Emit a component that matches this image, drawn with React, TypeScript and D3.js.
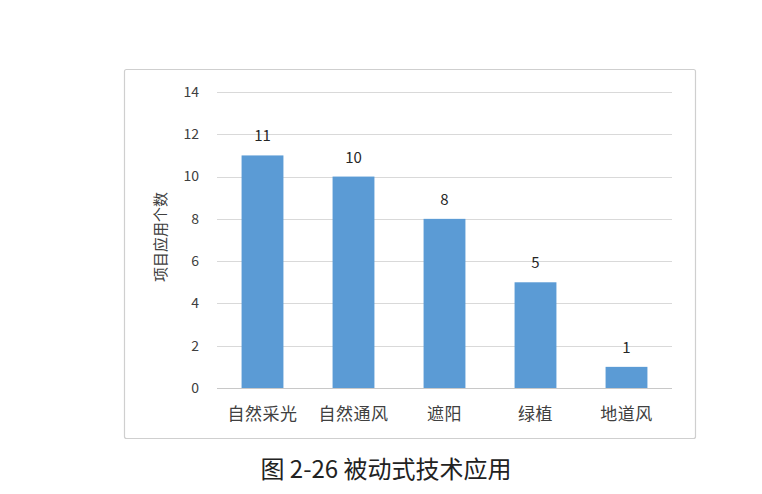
import React, { useEffect, useRef } from 'react';
import * as d3 from 'd3';

const categories = ['自然采光', '自然通风', '遮阳', '绿植', '地道风'];
const counts = [11, 10, 8, 5, 1];
const yTicks = [0, 2, 4, 6, 8, 10, 12, 14];
const yTitle = '项目应用个数';
const caption = '图 2-26 被动式技术应用';

const W = 762;
const H = 494;

const App: React.FC = () => {
  const svgRef = useRef<SVGSVGElement>(null);

  useEffect(() => {
    if (!svgRef.current) return;
    const svg = d3.select(svgRef.current);
    svg.selectAll('*').remove();

    const font = '"Noto Sans CJK SC", "Open Sans", sans-serif';
    const plot = { left: 217, right: 672, top: 92, bottom: 388 };

    svg.append('rect').attr('width', W).attr('height', H).attr('fill', '#ffffff');

    // chart frame
    svg.append('rect')
      .attr('x', 124.5).attr('y', 69.5)
      .attr('width', 571).attr('height', 369)
      .attr('rx', 2)
      .attr('fill', '#ffffff')
      .attr('stroke', '#cfcfcf')
      .attr('stroke-width', 1.2);

    const x = d3.scaleBand()
      .domain(categories)
      .range([plot.left, plot.right])
      .paddingInner(0.54)
      .paddingOuter(0.27);

    const y = d3.scaleLinear()
      .domain([0, 14])
      .range([plot.bottom, plot.top]);

    // grid lines
    svg.append('g')
      .selectAll('line')
      .data(yTicks)
      .enter()
      .append('line')
      .attr('x1', plot.left)
      .attr('x2', plot.right)
      .attr('y1', d => Math.round(y(d)) + 0.5)
      .attr('y2', d => Math.round(y(d)) + 0.5)
      .attr('stroke', d => (d === 0 ? '#c8c8c8' : '#d9d9d9'))
      .attr('stroke-width', 1);

    // y tick labels
    svg.append('g')
      .selectAll('text')
      .data(yTicks)
      .enter()
      .append('text')
      .attr('x', 199)
      .attr('y', d => y(d))
      .attr('dy', '0.35em')
      .attr('text-anchor', 'end')
      .attr('font-family', font)
      .attr('font-size', 14)
      .attr('fill', '#404040')
      .text(d => d);

    // bars
    svg.append('g')
      .selectAll('rect')
      .data(counts)
      .enter()
      .append('rect')
      .attr('x', (_, i) => x(categories[i]) || 0)
      .attr('y', d => y(d))
      .attr('width', x.bandwidth())
      .attr('height', d => y(0) - y(d))
      .attr('fill', '#5b9bd5');

    // value labels
    svg.append('g')
      .selectAll('text')
      .data(counts)
      .enter()
      .append('text')
      .attr('x', (_, i) => (x(categories[i]) || 0) + x.bandwidth() / 2)
      .attr('y', d => y(d) - 14)
      .attr('text-anchor', 'middle')
      .attr('font-family', font)
      .attr('font-size', 15)
      .attr('fill', '#262626')
      .text(d => d);

    // category labels
    svg.append('g')
      .selectAll('text')
      .data(categories)
      .enter()
      .append('text')
      .attr('x', d => (x(d) || 0) + x.bandwidth() / 2)
      .attr('y', 420)
      .attr('text-anchor', 'middle')
      .attr('font-family', font)
      .attr('font-size', 17)
      .attr('letter-spacing', 0.5)
      .attr('fill', '#404040')
      .text(d => d);

    // y axis title
    svg.append('text')
      .attr('transform', `translate(161,237) rotate(-90)`)
      .attr('dy', '0.35em')
      .attr('text-anchor', 'middle')
      .attr('font-family', font)
      .attr('font-size', 15)
      .attr('fill', '#404040')
      .text(yTitle);

    // figure caption
    svg.append('text')
      .attr('x', 386)
      .attr('y', 478)
      .attr('text-anchor', 'middle')
      .attr('font-family', '"Noto Sans CJK SC", "Liberation Serif", serif')
      .attr('font-size', 24)
      .attr('fill', '#222222')
      .text(caption);
  }, []);

  return (
    <svg
      ref={svgRef}
      width={W}
      height={H}
      style={{ position: 'absolute', left: 0, top: 0, display: 'block' }}
    />
  );
};

export default App;
